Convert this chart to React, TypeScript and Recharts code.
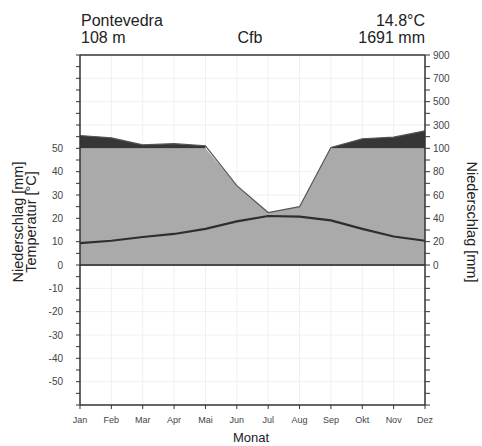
import React from "react";
import {
  ComposedChart,
  Area,
  Line,
  XAxis,
  YAxis,
  CartesianGrid,
  ReferenceLine,
} from "recharts";

const FONT = "'Liberation Sans', Arial, Helvetica, sans-serif";

// Pontevedra climate diagram (Walter-Lieth style)
const months = ["Jan", "Feb", "Mar", "Apr", "Mai", "Jun", "Jul", "Aug", "Sep", "Okt", "Nov", "Dez"];
const temperature = [9.4, 10.4, 12.0, 13.3, 15.5, 18.7, 21.0, 20.7, 19.1, 15.5, 12.2, 10.4];
const precipitation = [210, 190, 130, 140, 122, 68, 45, 50, 108, 182, 196, 250];

const leftTicks = [-60, -55, -50, -45, -40, -35, -30, -25, -20, -15, -10, -5, 0, 5, 10, 15, 20, 25, 30, 35, 40, 45, 50, 55, 60, 65, 70, 75, 80, 85, 90];
const leftLabelled = [-50, -40, -30, -20, -10, 0, 10, 20, 30, 40, 50];
const rightTickPos = [0, 10, 20, 30, 40, 50, 60, 70, 80, 90];
const rightTickLabels = ["0", "20", "40", "60", "80", "100", "300", "500", "700", "900"];
const gridRows = [-50, -40, -30, -20, -10, 10, 20, 30, 40, 60, 70, 80];

// precipitation -> temperature units (100 mm = 50 °C, compressed above)
function scaleP(p: number): number {
  return p <= 100 ? p / 2 : 50 + (p - 100) / 20;
}

const data = months.map((m, i) => {
  const ps = scaleP(precipitation[i]);
  return {
    i,
    month: m,
    t: temperature[i],
    pLow: Math.min(ps, 50),
    // very humid part (> 100 mm) only where it exists
    pRange: precipitation[i] > 100 ? [50, ps] : null,
    pLine: ps,
  };
});

const tickStyle = { fill: "#444", fontSize: 10, fontFamily: FONT };

export default function App() {
  return (
    <div style={{ position: "absolute", left: 0, top: 0, width: 482, height: 446, background: "#fff" }}>
      <ComposedChart
        width={482}
        height={446}
        data={data}
        margin={{ top: 49, right: 27, bottom: 21, left: 50 }}
      >
        <CartesianGrid
          stroke="#f0f0f0"
          horizontalValues={gridRows}
          verticalValues={[1, 2, 3, 4, 5, 6, 7, 8, 9, 10]}
          xAxisId="bottom"
          yAxisId="left"
        />
        <XAxis
          xAxisId="bottom"
          dataKey="i"
          type="number"
          domain={[0, 11]}
          ticks={[0, 1, 2, 3, 4, 5, 6, 7, 8, 9, 10, 11]}
          interval={0}
          tickFormatter={(v: number) => months[v]}
          height={20}
          tickSize={4}
          tickMargin={8}
          tick={{ ...tickStyle, fontSize: 9 }}
          axisLine={{ stroke: "#333", strokeWidth: 1.5 }}
          tickLine={{ stroke: "#333" }}
        />
        <XAxis
          xAxisId="top"
          orientation="top"
          dataKey="i"
          type="number"
          domain={[0, 11]}
          ticks={[0, 1, 2, 3, 4, 5, 6, 7, 8, 9, 10, 11]}
          interval={0}
          height={6}
          tickSize={4}
          tick={false}
          axisLine={{ stroke: "#333", strokeWidth: 1.5 }}
          tickLine={{ stroke: "#333" }}
        />
        <YAxis
          yAxisId="left"
          type="number"
          domain={[-60, 90]}
          ticks={leftTicks}
          interval={0}
          width={30}
          tickSize={4}
          tickMargin={13}
          tickFormatter={(v: number) => (leftLabelled.includes(v) ? String(v) : "")}
          tick={tickStyle}
          axisLine={{ stroke: "#333", strokeWidth: 1.5 }}
          tickLine={{ stroke: "#333" }}
        />
        <YAxis
          yAxisId="right"
          orientation="right"
          type="number"
          domain={[-60, 90]}
          allowDataOverflow
          ticks={leftTicks}
          interval={0}
          width={30}
          tickSize={5}
          tickMargin={3}
          tickFormatter={(v: number) => {
            const k = rightTickPos.indexOf(Number(v));
            return k >= 0 ? rightTickLabels[k] : "";
          }}
          tick={tickStyle}
          axisLine={{ stroke: "#333", strokeWidth: 1.5 }}
          tickLine={{ stroke: "#333" }}
        />

        <Area
          xAxisId="bottom"
          yAxisId="left"
          type="linear"
          dataKey="pLow"
          baseValue={0}
          fill="#aaaaaa"
          fillOpacity={1}
          stroke="none"
          isAnimationActive={false}
        />
        <Area
          xAxisId="bottom"
          yAxisId="left"
          type="linear"
          dataKey="pRange"
          fill="#363636"
          fillOpacity={1}
          stroke="none"
          isAnimationActive={false}
        />
        <Line
          xAxisId="bottom"
          yAxisId="left"
          type="linear"
          dataKey="pLine"
          stroke="#555"
          strokeWidth={1.2}
          dot={false}
          isAnimationActive={false}
        />
        {/* invisible series so the right-hand precipitation axis gets rendered */}
        <Line
          xAxisId="bottom"
          yAxisId="right"
          type="linear"
          dataKey="t"
          stroke="none"
          dot={false}
          activeDot={false}
          isAnimationActive={false}
        />
        <ReferenceLine xAxisId="bottom" yAxisId="left" y={0} stroke="#4a4a4a" strokeWidth={2} />
        <Line
          xAxisId="bottom"
          yAxisId="left"
          type="linear"
          dataKey="t"
          stroke="#2e2e2e"
          strokeWidth={2.2}
          dot={false}
          isAnimationActive={false}
        />
      </ComposedChart>

      <svg
        width={482}
        height={446}
        style={{ position: "absolute", left: 0, top: 0, pointerEvents: "none" }}
        fontFamily={FONT}
      >
        <text x={81} y={26} fontSize={16} fill="#222">Pontevedra</text>
        <text x={81} y={43} fontSize={16} fill="#222">108 m</text>
        <text x={250} y={43} fontSize={16} fill="#222" textAnchor="middle">Cfb</text>
        <text x={425} y={26} fontSize={16} fill="#222" textAnchor="end">14.8°C</text>
        <text x={425} y={43} fontSize={16} fill="#222" textAnchor="end">1691 mm</text>

        <text transform="translate(23,222) rotate(-90)" fontSize={14.5} fill="#222" textAnchor="middle">
          Niederschlag [mm]
        </text>
        <text transform="translate(36,222) rotate(-90)" fontSize={14.5} fill="#222" textAnchor="middle">
          Temperatur [°C]
        </text>
        <text transform="translate(467,222) rotate(90)" fontSize={14.5} fill="#222" textAnchor="middle">
          Niederschlag [mm]
        </text>
        <text x={251} y={442} fontSize={13} fill="#222" textAnchor="middle">Monat</text>
      </svg>
    </div>
  );
}
